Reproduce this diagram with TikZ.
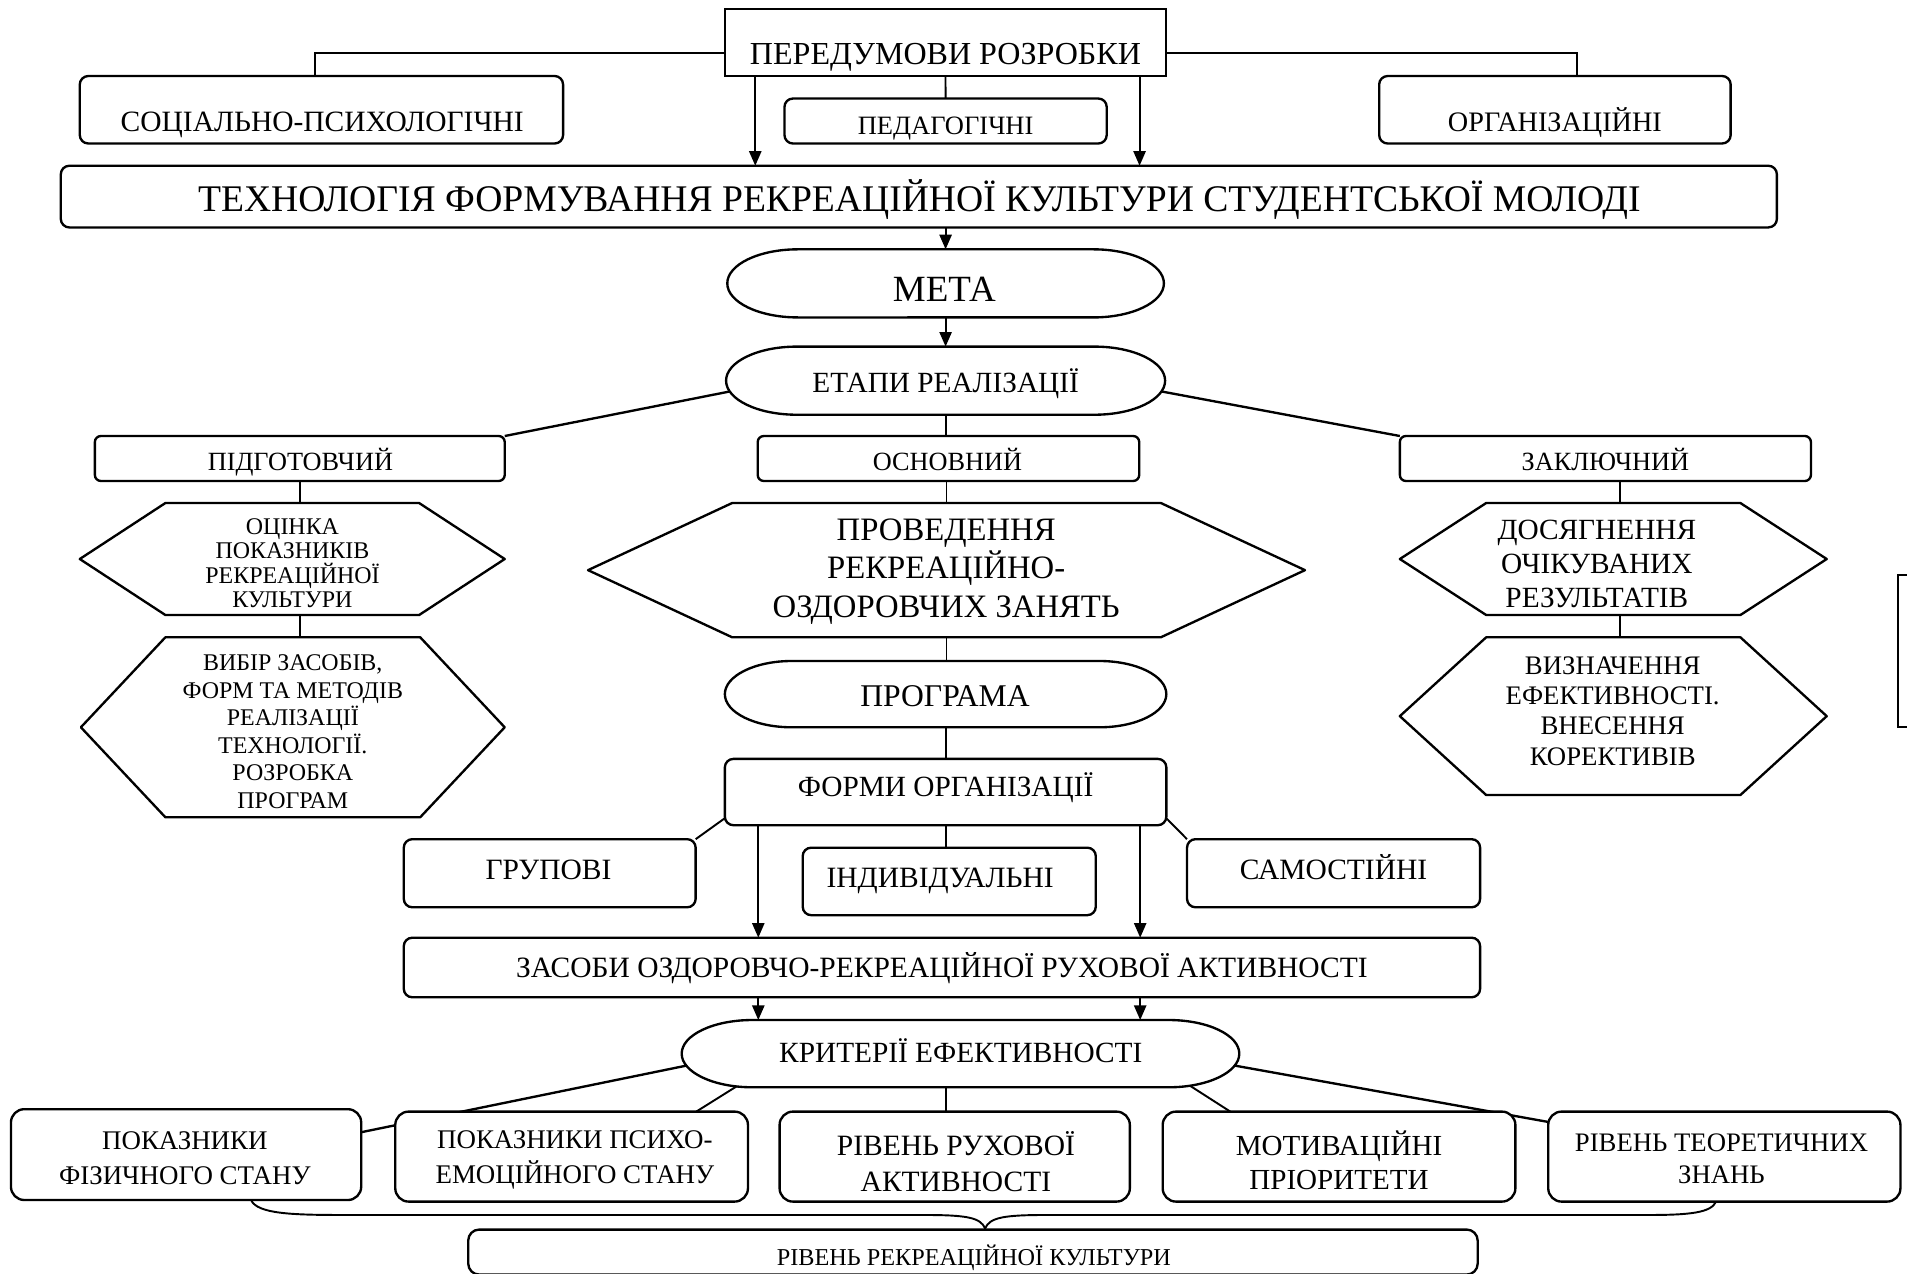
\documentclass[tikz,border=0pt]{standalone}
\usepackage{fontspec}
\setmainfont{Liberation Serif}
\usetikzlibrary{arrows.meta,fit,calc}
\pgfdeclarelayer{bg}
\pgfsetlayers{bg,main}
\tikzset{
  boxr/.style={draw, line width=0.55pt, fill=white, inner sep=0pt, outer sep=0pt, rounded corners=0.7mm},
  boxs/.style={draw, line width=0.55pt, fill=white, inner sep=0pt, outer sep=0pt},
  ghost/.style={inner sep=0pt, outer sep=0pt, draw=none},
  outl/.style={draw, line width=0.55pt, fill=white, line join=round},
  txt/.style={inner sep=0pt, outer sep=0pt, align=center},
  fs/.style 2 args={font=\fontsize{#1}{#2}\selectfont},
  one/.style={anchor=base},
  conn/.style={line width=0.45pt},
  arr/.style={conn, -{Triangle[length=1.2mm,width=1mm]}},
}
\newcommand\stadshape[3]{%
  \draw[outl] ([xshift=#2]#1.north west) -- ([xshift=-#2]#1.north east)
    arc[start angle=90,end angle=-90,x radius=#2,y radius=#3]
    -- ([xshift=#2]#1.south west)
    arc[start angle=270,end angle=90,x radius=#2,y radius=#3] -- cycle;}
\newcommand\hexshape[2]{%
  \draw[outl] (#1.west) -- ([xshift=#2]#1.north west) -- ([xshift=-#2]#1.north east)
    -- (#1.east) -- ([xshift=-#2]#1.south east) -- ([xshift=#2]#1.south west) -- cycle;}
\begin{document}
\begin{tikzpicture}[x=0.1mm,y=-0.1mm]
\useasboundingbox (0,0) rectangle (1568,1047);
% boxes
\node[boxs, fit={(596.1,7.4) (958.7,62.5)}] (pered) {};
\node[boxr, fit={(65.6,62.5) (463,118)}] (soc) {};
\node[boxr, fit={(645,81) (910,118)}] (ped) {};
\node[boxr, fit={(1134,62.5) (1423,118)}] (org) {};
\node[boxr, fit={(50,136.3) (1461,187)}] (title) {};
\node[ghost, fit={(598,205) (957,261)}] (meta) {};
\stadshape{meta}{5.8mm}{2.8mm}
\node[ghost, fit={(597,285) (958,341)}] (etapy) {};
\stadshape{etapy}{5.8mm}{2.8mm}
\node[boxr, rounded corners=0.5mm, fit={(78,358.5) (415,395.5)}] (pidg) {};
\node[boxr, rounded corners=0.5mm, fit={(623,358.5) (936.7,395.5)}] (osn) {};
\node[boxr, rounded corners=0.5mm, fit={(1151,358.5) (1489,395.5)}] (zak) {};
\node[ghost, fit={(65.6,413.6) (415,505.7)}] (ocin) {};
\hexshape{ocin}{7.04mm}
\node[ghost, fit={(66.5,524) (415,672)}] (vybir) {};
\hexshape{vybir}{6.95mm}
\node[ghost, fit={(483.5,413.6) (1073,524)}] (prov) {};
\hexshape{prov}{11.85mm}
\node[ghost, fit={(1151,413.6) (1502,505.7)}] (dos) {};
\hexshape{dos}{7.1mm}
\node[ghost, fit={(1151,524) (1502,653.7)}] (vyzn) {};
\hexshape{vyzn}{7.1mm}
\node[ghost, fit={(596,543.5) (959,598)}] (progr) {};
\stadshape{progr}{5.5mm}{2.725mm}
\node[boxr, fit={(596,624) (959,678.5)}] (formy) {};
\node[boxr, fit={(332,690) (572,746)}] (grup) {};
\node[boxr, fit={(660,697) (901,752.5)}] (indyv) {};
\node[boxr, fit={(976,690) (1217,746)}] (sam) {};
\node[boxr, fit={(332,771) (1217,820)}] (zasoby) {};
\node[ghost, fit={(560.5,838.7) (1019,894)}] (krit) {};
\stadshape{krit}{5.8mm}{2.765mm}
\node[boxr, rounded corners=1.1mm, fit={(9,912) (297,986.7)}] (pf) {};
\node[boxr, rounded corners=1.1mm, fit={(325,914) (615,988)}] (psy) {};
\node[boxr, rounded corners=1.1mm, fit={(641,914) (929,988)}] (ruh) {};
\node[boxr, rounded corners=1.1mm, fit={(956,914) (1246,988)}] (mot) {};
\node[boxr, rounded corners=1.1mm, fit={(1273,914) (1562.6,988)}] (teor) {};
\node[boxr, rounded corners=0.9mm, fit={(385,1011) (1215,1048)}] (rivrek) {};
\node[boxs, fit={(1560.6,472.8) (1610,598)}] (edgebox) {};
% brace
\coordinate (brL) at (206.6,987);
\coordinate (brR) at (1411,988);
\coordinate (brT) at (810,1010);
\draw[conn] (brL) .. controls (212,998) and (240,999) .. (282,999) -- (759,999)
  .. controls (795,999) and (806,1001) .. (brT)
  .. controls (814,1001) and (825,999) .. (861,999) -- (1356,999)
  .. controls (1390,999) and (1407,997) .. (brR);
% connectors
\begin{pgfonlayer}{bg}
\draw[conn] ([yshift=-0.86mm]pered.west) -| ([xshift=-0.5mm]soc.north);
\draw[conn] ([yshift=-0.86mm]pered.east) -| ([xshift=1.85mm]org.north);
\draw[conn] (pered.south) -- (ped.north);
\draw[arr] ([xshift=-15.64mm]pered.south) -- ([xshift=-15.64mm]pered.south |- title.north);
\draw[arr] ([xshift=15.96mm]pered.south) -- ([xshift=15.96mm]pered.south |- title.north);
\draw[arr] (meta.north |- title.south) -- (meta.north);
\draw[arr] (meta.south) -- (meta.south |- etapy.north);
\draw[conn, line width=0.55pt] ([shift={(0.5mm,-0.85mm)}]etapy.west) -- (pidg.north east);
\draw[conn, line width=0.55pt] ([shift={(-0.5mm,-0.85mm)}]etapy.east) -- (zak.north west);
\draw[conn] (etapy.south) -- (etapy.south |- osn.north);
\draw[conn] ([xshift=0.65mm]ocin.north) -- ([xshift=0.65mm]ocin.north |- pidg.south);
\draw[conn] ([xshift=0.65mm]ocin.south) -- ([xshift=0.65mm]ocin.south |- vybir.north);
\draw[conn] (prov.north |- osn.south) -- (prov.north);
\draw[conn] (prov.south) -- (prov.south |- progr.north);
\draw[conn] ([xshift=0.55mm]dos.north) -- ([xshift=0.55mm]dos.north |- zak.south);
\draw[conn] ([xshift=0.55mm]dos.south) -- ([xshift=0.55mm]dos.south |- vyzn.north);
\draw[conn] (progr.south) -- (progr.south |- formy.north);
\draw[conn] ([yshift=-2.15mm]formy.west) -- (grup.north east);
\draw[conn] ([yshift=-2.15mm]formy.east) -- (sam.north west);
\draw[conn] (formy.south) -- (formy.south |- indyv.north);
\draw[arr] ([xshift=-15.4mm]formy.south) -- ([xshift=-15.4mm]formy.south |- zasoby.north);
\draw[arr] ([xshift=16mm]formy.south) -- ([xshift=16mm]formy.south |- zasoby.north);
\draw[arr] ([xshift=-15.1mm]zasoby.south) -- ([xshift=-15.1mm]zasoby.south |- krit.north);
\draw[arr] ([xshift=16.3mm]zasoby.south) -- ([xshift=16.3mm]zasoby.south |- krit.north);
\draw[conn, line width=0.55pt] ([shift={(0.5mm,-0.96mm)}]krit.west) -- ([yshift=1.84mm]pf.east);
\draw[conn] ([shift={(-18.05mm,0.3mm)}]krit.south) -- ([xshift=10.25mm]psy.north);
\draw[conn] ([xshift=-0.7mm]ruh.north) -- ([xshift=-0.7mm]ruh.north |- krit.south);
\draw[conn] ([shift={(18.6mm,0.3mm)}]krit.south) -- ([xshift=-8.94mm]mot.north);
\draw[conn, line width=0.55pt] ([shift={(-0.5mm,-0.96mm)}]krit.east) -- ([yshift=2.85mm]teor.west);
\end{pgfonlayer}
% texts (single-line texts placed by their baseline)
\node[txt, fs={7.5}{9}, one] (pered-t) at (777.4,53.1) {ПЕРЕДУМОВИ РОЗРОБКИ};
\node[txt, fs={6.9}{8}, one] (soc-t) at (265,108.4) {СОЦІАЛЬНО-ПСИХОЛОГІЧНІ};
\node[txt, fs={6.2}{7}, one] (ped-t) at (777.5,110.6) {ПЕДАГОГІЧНІ};
\node[txt, fs={6.6}{8}, one] (org-t) at (1278.5,108.1) {ОРГАНІЗАЦІЙНІ};
\node[txt, fs={8.8}{10}, one] (title-t) at (756,173.6) {ТЕХНОЛОГІЯ ФОРМУВАННЯ РЕКРЕАЦІЙНОЇ КУЛЬТУРИ СТУДЕНТСЬКОЇ МОЛОДІ};
\node[txt, fs={8.65}{10}, one] (meta-t) at (776.5,248) {МЕТА};
\node[txt, fs={6.85}{8}, one] (etapy-t) at (777.5,322.9) {ЕТАПИ РЕАЛІЗАЦІЇ};
\node[txt, fs={6.15}{7}, one] (pidg-t) at (247,387.1) {ПІДГОТОВЧИЙ};
\node[txt, fs={6.15}{7}, one] (osn-t) at (779,387.1) {ОСНОВНИЙ};
\node[txt, fs={6.15}{7}, one] (zak-t) at (1320,387.1) {ЗАКЛЮЧНИЙ};
\node[txt, fs={5.6}{5.7}] (ocin-t) at (240.5,463) {ОЦІНКА\\ПОКАЗНИКІВ\\РЕКРЕАЦІЙНОЇ\\КУЛЬТУРИ};
\node[txt, fs={5.6}{6.45}] (vybir-t) at (240.75,601.5) {ВИБІР ЗАСОБІВ,\\ФОРМ ТА МЕТОДІВ\\РЕАЛІЗАЦІЇ\\ТЕХНОЛОГІЇ.\\РОЗРОБКА\\ПРОГРАМ};
\node[txt, fs={7.65}{9}] (prov-t) at (778,470) {ПРОВЕДЕННЯ\\РЕКРЕАЦІЙНО-\\ОЗДОРОВЧИХ ЗАНЯТЬ};
\node[txt, fs={6.86}{7.97}] (dos-t) at (1313,464) {ДОСЯГНЕННЯ\\ОЧІКУВАНИХ\\РЕЗУЛЬТАТІВ};
\node[txt, fs={6.26}{7.1}] (vyzn-t) at (1326,584.5) {ВИЗНАЧЕННЯ\\ЕФЕКТИВНОСТІ.\\ВНЕСЕННЯ\\КОРЕКТИВІВ};
\node[txt, fs={7.4}{9}, one] (progr-t) at (777,580.5) {ПРОГРАМА};
\node[txt, fs={6.86}{8}, one] (formy-t) at (777.5,654.9) {ФОРМИ ОРГАНІЗАЦІЇ};
\node[txt, fs={6.9}{8}, one] (grup-t) at (451,722.9) {ГРУПОВІ};
\node[txt, fs={6.9}{8}, one] (indyv-t) at (773,729.9) {ІНДИВІДУАЛЬНІ};
\node[txt, fs={6.9}{8}, one] (sam-t) at (1096.5,722.9) {САМОСТІЙНІ};
\node[txt, fs={6.9}{8}, one] (zasoby-t) at (774.5,803.4) {ЗАСОБИ ОЗДОРОВЧО-РЕКРЕАЦІЙНОЇ РУХОВОЇ АКТИВНОСТІ};
\node[txt, fs={6.86}{8}, one] (krit-t) at (790,873.9) {КРИТЕРІЇ ЕФЕКТИВНОСТІ};
\node[txt, fs={6.3}{8.2}] (pf-t) at (152,952.4) {ПОКАЗНИКИ\\ФІЗИЧНОГО СТАНУ};
\node[txt, fs={6.3}{8.2}] (psy-t) at (472.7,953.8) {ПОКАЗНИКИ ПСИХО-\\ЕМОЦІЙНОГО СТАНУ};
\node[txt, fs={6.9}{8.5}] (ruh-t) at (786,955) {РІВЕНЬ РУХОВОЇ\\АКТИВНОСТІ};
\node[txt, fs={6.8}{7.9}] (mot-t) at (1101,954) {МОТИВАЦІЙНІ\\ПРІОРИТЕТИ};
\node[txt, fs={6.25}{7.5}] (teor-t) at (1415.5,952.7) {РІВЕНЬ ТЕОРЕТИЧНИХ\\ЗНАНЬ};
\node[txt, fs={5.67}{7}, one] (rivrek-t) at (800.8,1040.5) {РІВЕНЬ РЕКРЕАЦІЙНОЇ КУЛЬТУРИ};
\end{tikzpicture}
\end{document}
